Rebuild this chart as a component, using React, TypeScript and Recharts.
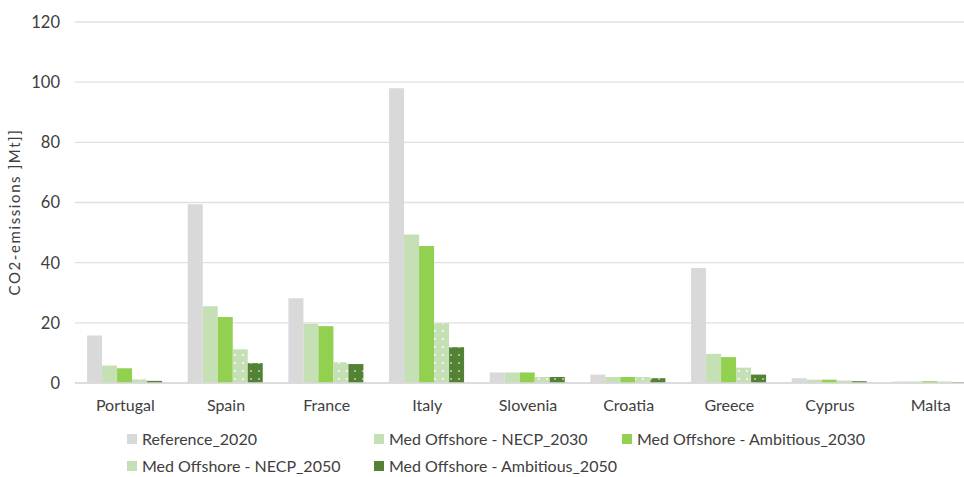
import { BarChart, Bar, XAxis, YAxis, CartesianGrid, Label } from "recharts"

const countries = ["Portugal", "Spain", "France", "Italy", "Slovenia", "Croatia", "Greece", "Cyprus", "Malta"]
const reference2020 = [15.8, 59.4, 28.2, 98.0, 3.5, 2.8, 38.2, 1.6, 0.5]
const necp2030 = [5.8, 25.5, 19.7, 49.4, 3.5, 2.0, 9.7, 1.1, 0.5]
const ambitious2030 = [4.9, 21.9, 18.9, 45.5, 3.5, 2.0, 8.6, 1.1, 0.6]
const necp2050 = [1.2, 11.2, 6.9, 19.9, 2.0, 2.0, 5.1, 0.8, 0.5]
const ambitious2050 = [0.7, 6.6, 6.3, 11.9, 2.0, 1.6, 2.8, 0.6, 0.3]
const yTicks = [0, 20, 40, 60, 80, 100, 120]

const series = [
  { key: "ref2020", name: "Reference_2020", color: "#d9d9d9", fill: "#d9d9d9" },
  { key: "necp2030", name: "Med Offshore - NECP_2030", color: "#c5e0b4", fill: "#c5e0b4" },
  { key: "amb2030", name: "Med Offshore - Ambitious_2030", color: "#92d050", fill: "#92d050" },
  { key: "necp2050", name: "Med Offshore - NECP_2050", color: "#c5e0b4", fill: "url(#dotsLight)" },
  { key: "amb2050", name: "Med Offshore - Ambitious_2050", color: "#548235", fill: "url(#dotsDark)" },
]

const data = countries.map((c, i) => ({
  country: c,
  ref2020: reference2020[i],
  necp2030: necp2030[i],
  amb2030: ambitious2030[i],
  necp2050: necp2050[i],
  amb2050: ambitious2050[i],
}))

const FONT = "Lato, 'Open Sans', sans-serif"
const TEXT = "#404040"

// legend: two rows, three columns like the Excel original
function LegendBox() {
  const rows = [series.slice(0, 3), series.slice(3)]
  const cols = [127, 374, 622]
  const rowTop = [429, 456]
  return (
    <div style={{ fontFamily: FONT, fontSize: 16, color: TEXT }}>
      {rows.map((row, r) =>
        row.map((s, i) => (
          <div
            key={s.key}
            style={{ position: "absolute", left: cols[i], top: rowTop[r], height: 20, lineHeight: "20px", display: "flex", alignItems: "center", whiteSpace: "nowrap" }}
          >
            <span style={{ display: "inline-block", width: 10, height: 10, background: s.color, marginRight: 5 }} />
            <span>{s.name}</span>
          </div>
        ))
      )}
    </div>
  )
}

export default function App() {
  return (
    <div style={{ position: "absolute", left: 0, top: 0, width: 964, height: 477, overflow: "hidden", background: "#fff" }}>
      <BarChart
        width={1000}
        height={477}
        data={data}
        margin={{ top: 22, right: 19, left: 0, bottom: 64 }}
        barCategoryGap="12%"
        barGap={0}
      >
        <defs>
          <pattern id="dotsLight" width="8" height="8" patternUnits="userSpaceOnUse">
            <rect width="8" height="8" fill="#c5e0b4" />
            <circle cx="3" cy="3" r="0.9" fill="#ffffff" />
          </pattern>
          <pattern id="dotsDark" width="8" height="8" patternUnits="userSpaceOnUse">
            <rect width="8" height="8" fill="#548235" />
            <circle cx="3" cy="3" r="0.9" fill="#c5e0b4" />
          </pattern>
        </defs>
        <CartesianGrid vertical={false} stroke="#e0e0e0" strokeWidth={1.3} />
        <XAxis
          dataKey="country"
          height={30}
          tickLine={false}
          axisLine={{ stroke: "#d9d9d9", strokeWidth: 1.3 }}
          tick={{ fill: TEXT, fontSize: 16, fontFamily: FONT }}
          tickMargin={11}
          interval={0}
        />
        <YAxis
          width={75}
          domain={[0, 120]}
          ticks={yTicks}
          tickLine={false}
          axisLine={false}
          tickSize={0}
          tickMargin={15}
          tick={{ fill: TEXT, fontSize: 16.5, fontFamily: FONT }}
        >
          <Label
            content={() => (
              <text
                x={16}
                y={212}
                transform="rotate(-90 16 212)"
                textAnchor="middle"
                dominantBaseline="middle"
                fill={TEXT}
                fontSize={15}
                letterSpacing={1.6}
                fontFamily={FONT}
              >
                CO2-emissions ]Mt]]
              </text>
            )}
          />
        </YAxis>
        {series.map((s) => (
          <Bar key={s.key} dataKey={s.key} name={s.name} fill={s.fill} isAnimationActive={false} />
        ))}
      </BarChart>
      <LegendBox />
    </div>
  )
}
